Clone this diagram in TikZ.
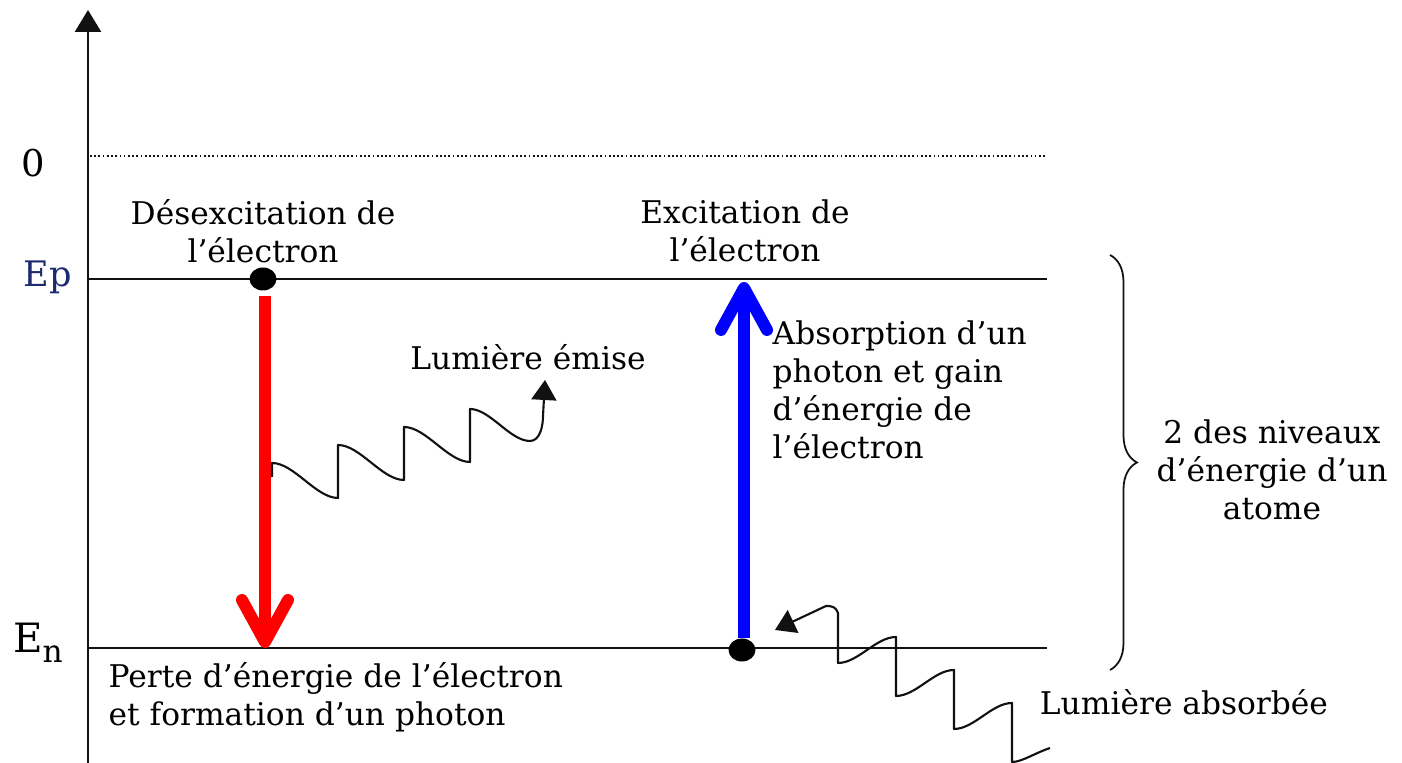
\documentclass[tikz,border=0pt]{standalone}
\usepackage{fontspec}
\setmainfont{DejaVu Serif}
\usepackage{tikz}
\usetikzlibrary{arrows.meta,positioning,shapes.geometric,decorations.pathreplacing}
\definecolor{nvrouge}{HTML}{FF0000}
\definecolor{nvbleu}{HTML}{0000FF}
\definecolor{nvmarine}{HTML}{1C2A6E}
\definecolor{nvnoir}{HTML}{111111}

\begin{document}
\begin{tikzpicture}[every node/.style={font=\fontsize{8.9}{10.8}\selectfont, inner sep=0pt},
  niveau/.style={nvnoir, line width=0.55pt},
  onde/.style={nvnoir, line width=0.6pt, line join=round, -{Triangle[width=2.5mm,length=2mm]}},
  transition/.style={line width=3.4pt, -{Straight Barb[length=4.2mm,width=4.6mm,round]}},
  electron/.style={ellipse, fill=black, minimum width=0.27cm, minimum height=0.23cm}]
  \useasboundingbox (0,0) rectangle (14.02,7.63);
  % Axe des energies
  \coordinate (axeO) at (0.88,0);
  \coordinate (axeH) at (0.88,7.53);
  \draw[-{Triangle[width=2.6mm,length=2.2mm]}, nvnoir, line width=0.7pt] (axeO) -- (axeH);
  % Niveaux 0, Ep, En
  \coordinate (zeroG) at (0.90,6.07);
  \coordinate (zeroD) at (10.45,6.07);
  \coordinate (EpG) at (0.88,4.84);
  \coordinate (EpD) at (10.47,4.84);
  \coordinate (EnG) at (0.88,1.15);
  \coordinate (EnD) at (10.47,1.15);
  \draw[nvnoir, line width=0.35pt, dash pattern=on 0.5pt off 0.7pt] (zeroG) -- (zeroD);
  \draw[niveau] (EpG) -- (EpD);
  \draw[niveau] (EnG) -- (EnD);
  \node[font=\fontsize{10.5}{10.5}\selectfont] (zero) at (0.33,6.00){0};
  \node[text=nvmarine, font=\fontsize{10}{10}\selectfont] (Ep) at (0.48,4.86){Ep};
  \node (En) at (0.38,1.20){{\fontsize{11.5}{11.5}\selectfont E}\raisebox{-0.6ex}{\fontsize{8.9}{8.9}\selectfont n}};
  % --- Desexcitation (gauche) ---
  \node[align=center] (desex) at (2.63,5.32){Désexcitation de\\l’électron};
  \node[electron] (haut) at (2.63,4.84){};
  \coordinate (chute) at (2.65,1.15);
  \draw[transition, nvrouge, shorten <=0.05cm] (haut.south -| chute) -- (chute);
  % Lumiere emise
  \coordinate (emisDep) at (2.72,2.86);
  \draw[onde] (emisDep) -- ++(0,0.14)
    \foreach \k in {1,2,3}{ .. controls +(0.22,0) and +(-0.22,0) .. ++(0.66,-0.35) -- ++(0,0.53) }
    .. controls +(0.2,0) and +(-0.2,0) .. ++(0.6,-0.32)
    .. controls +(0.1,0) and +(0,-0.1) .. ++(0.13,0.25) -- ++(0.02,0.36);
  \node (emise) at (5.28,4.06){Lumière émise};
  \node[align=left, anchor=west] (perte) at (1.08,0.66){Perte d’énergie de l’électron\\et formation d’un photon};
  % --- Excitation (droite) ---
  \node[align=center] (excit) at (7.45,5.32){Excitation de\\l’électron};
  \node[electron] (bas) at (7.42,1.13){};
  \coordinate (saut) at (7.44,4.81);
  \draw[transition, nvbleu] (bas.north -| saut) -- (saut);
  \node[align=left, anchor=west] (absorb) at (7.72,3.73){Absorption d’un\\photon et gain\\d’énergie de\\l’électron};
  % Lumiere absorbee
  \coordinate (absDep) at (10.50,0.15);
  \draw[onde] (absDep) .. controls +(-0.15,-0.05) and +(0.1,0) .. ++(-0.38,-0.14)
    \foreach \k in {1,2,3}{ -- ++(0,0.59) .. controls +(-0.2,0) and +(0.2,0) .. ++(-0.58,-0.26) }
    -- ++(0,0.50) .. controls +(-0.02,0.05) and +(0.08,0) .. ++(-0.12,0.07) -- ++(-0.51,-0.24);
  \node (absorbee) at (11.84,0.61){Lumière absorbée};
  % Accolade des niveaux
  \draw[decorate, decoration={brace, amplitude=0.27cm}, nvnoir, line width=0.5pt] (11.10,5.08) -- (11.10,0.93);
  \node[align=center] (niveaux) at (12.72,2.93){2 des niveaux\\d’énergie d’un\\atome};
\end{tikzpicture}
\end{document}
